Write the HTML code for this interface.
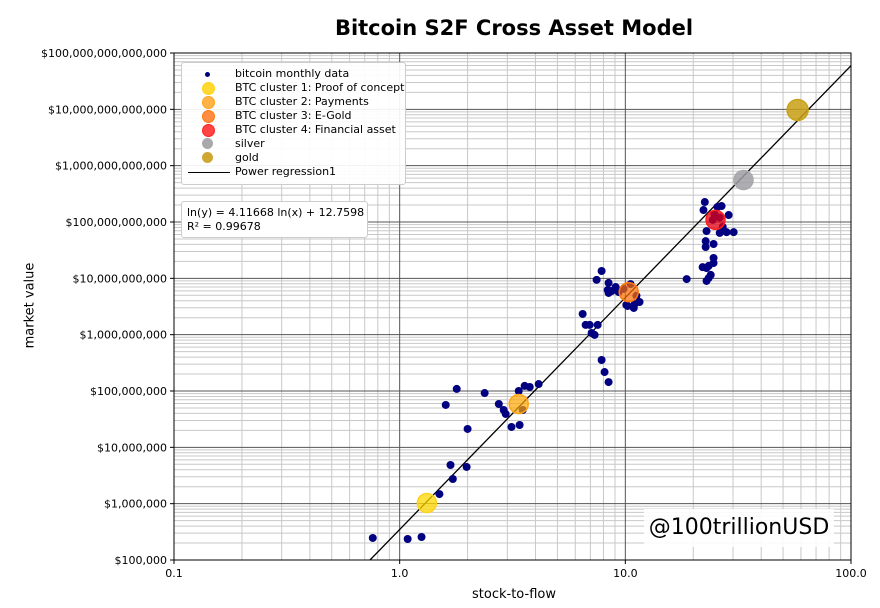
<!DOCTYPE html>
<html><head><meta charset="utf-8"><style>
body{margin:0;background:#fff;}
svg{display:block;font-family:"DejaVu Sans","Liberation Sans",sans-serif;}
</style></head><body>
<svg id="chart" width="880" height="608" viewBox="0 0 880 608"></svg>
<script>
const btcX=[0.76,1.085,1.25,1.79,2.38,1.60,2.00,1.68,1.98,1.72,1.50,2.75,2.89,2.95,3.13,3.40,3.58,3.77,4.13,3.37,3.51,
7.85,7.46,8.43,8.35,8.70,8.43,9.06,9.34,9.82,10.55,11.2,11.56,10.1,11.0,10.24,10.9,6.47,6.67,6.95,7.54,7.09,7.31,7.85,8.09,8.43,
22.5,22.2,25.6,26.7,28.7,24.4,27.0,22.9,26.2,28.1,30.2,22.7,24.6,22.7,24.6,24.6,22.0,23.4,22.9,23.9,23.4,22.9,18.7,24.8,26.2];
const btcY=[2.46e5,2.36e5,2.56e5,1.09e8,9.2e7,5.65e7,2.12e7,4.86e6,4.48e6,2.74e6,1.48e6,5.88e7,4.6e7,3.91e7,2.3e7,2.49e7,1.23e8,1.18e8,1.33e8,1.0e8,4.6e7,
1.35e10,9.4e9,8.3e9,6.2e9,5.96e9,5.5e9,7.0e9,5.7e9,6.5e9,7.9e9,4.9e9,3.8e9,3.37e9,3.5e9,3.23e9,2.98e9,2.33e9,1.49e9,1.49e9,1.49e9,1.07e9,9.9e8,3.55e8,2.17e8,1.44e8,
2.26e11,1.63e11,1.85e11,1.92e11,1.33e11,1.09e11,8.2e10,6.9e10,6.4e10,6.6e10,6.6e10,4.57e10,4.07e10,3.6e10,2.3e10,1.87e10,1.58e10,1.66e10,1.52e10,1.15e10,1.01e10,8.98e9,9.7e9,1.4e11,1.2e11];
const bigNames=["cluster-1","cluster-2","cluster-3","cluster-4","silver","gold"];
const bigX=[1.32,3.37,10.35,25.1,33.4,58.0];
const bigY=[1.03e6,5.88e7,5.7e9,1.09e11,5.57e11,9.75e12];
const bigFill=["rgba(255,215,0,0.75)","rgba(255,165,0,0.7)","rgba(255,110,0,0.7)","rgba(230,0,20,0.75)","rgba(160,160,165,0.85)","rgba(200,160,20,0.85)"];
const bigStroke=["#ffd21a","#ffa319","#ff7a10","#ff2020","#a9a9ad","#c9a21a"];
const regA=4.11668, regB=12.7598;
const yTicks=[1e5,1e6,1e7,1e8,1e9,1e10,1e11,1e12,1e13,1e14];
const xTicks=[0.1,1,10,100];
const xTickLabels=["0.1","1.0","10.0","100.0"];

const L=174,R=851,T=53,B=560;
const sx=v=>L+(Math.log10(v)+1)/3*(R-L);
const sy=v=>B-(Math.log10(v)-5)/9*(B-T);
const svg=document.getElementById('chart');
const NS="http://www.w3.org/2000/svg";
function mk(tag,attrs,parent){const e=document.createElementNS(NS,tag);for(const k in attrs)e.setAttribute(k,attrs[k]);(parent||svg).appendChild(e);return e;}
function fmt(v){return "$"+Math.round(v).toLocaleString("en-US");}

const grid=mk('g',{});


for(let d=-1;d<2;d++)for(let m=2;m<10;m++){const x=sx(m*Math.pow(10,d));mk('line',{x1:x,x2:x,y1:T,y2:B,stroke:'#c8c8c8','stroke-width':1},grid);}
for(let d=5;d<14;d++)for(let m=2;m<10;m++){const y=sy(m*Math.pow(10,d));mk('line',{x1:L,x2:R,y1:y,y2:y,stroke:'#c8c8c8','stroke-width':1},grid);}
xTicks.forEach((t,i)=>{const x=sx(t);mk('line',{x1:x,x2:x,y1:T,y2:B,stroke:'#555','stroke-width':1},grid);
 mk('line',{x1:x,x2:x,y1:B,y2:B+4,stroke:'#000'},grid);
 const tx=mk('text',{x:x,y:B+17,'font-size':11,'text-anchor':'middle'},grid);tx.textContent=xTickLabels[i];
 
 });
yTicks.forEach(t=>{const y=sy(t);mk('line',{x1:L,x2:R,y1:y,y2:y,stroke:'#555','stroke-width':1},grid);
 mk('line',{x1:L-4,x2:L,y1:y,y2:y,stroke:'#000'},grid);
 const tx=mk('text',{x:L-7,y:y+4,'font-size':11,'text-anchor':'end'},grid);tx.textContent=fmt(t);
 
 });

const clip=mk('clipPath',{id:'pc'});mk('rect',{x:L,y:T,width:R-L,height:B-T},clip);
// regression line
const x0=Math.exp((Math.log(1e5)-regB)/regA), x1=Math.exp((Math.log(1e14)-regB)/regA);
const reg=mk('line',{x1:sx(x0),y1:sy(1e5),x2:sx(x1),y2:sy(1e14),stroke:'#000','stroke-width':1.3,'clip-path':'url(#pc)'});


// btc points
btcX.forEach((v,i)=>{const c=mk('circle',{cx:sx(v),cy:sy(btcY[i]),r:4,fill:'#000080','clip-path':'url(#pc)'});
 
 });
bigX.forEach((v,i)=>{const c=mk('circle',{cx:sx(v),cy:sy(bigY[i]),r:i==5?10.5:9.5,fill:bigFill[i],stroke:bigStroke[i],'stroke-width':1.5});
 
 });
mk('rect',{x:L,y:T,width:R-L,height:B-T,fill:'none',stroke:'#000','stroke-width':1});
</script>
<div style="position:absolute;left:0;top:0;width:880px;height:608px;pointer-events:none;font-family:'DejaVu Sans','Liberation Sans',sans-serif;color:#000">
 <div style="position:absolute;left:174px;width:680px;top:16px;text-align:center;font-weight:bold;font-size:21px">Bitcoin S2F Cross Asset Model</div>
 <div style="position:absolute;left:174px;width:680px;top:587px;text-align:center;font-size:13px">stock-to-flow</div>
 <div style="position:absolute;left:-20px;top:298px;width:100px;text-align:center;font-size:13px;transform:rotate(-90deg)">market value</div>
 <div style="position:absolute;left:181px;top:62px;width:225px;height:123px;background:rgba(255,255,255,0.92);border:1px solid #ccc;border-radius:3px;font-size:11px;line-height:14px;box-sizing:border-box;padding-top:4px">
  <div style="position:relative;padding-left:53px">bitcoin monthly data<span style="position:absolute;left:23px;top:5px;width:5px;height:5px;border-radius:50%;background:#000080"></span></div>
  <div style="position:relative;padding-left:53px">BTC cluster 1: Proof of concept<span style="position:absolute;left:20px;top:1px;width:11px;height:11px;border-radius:50%;background:#ffd92e;border:1px solid #ffd21a"></span></div>
  <div style="position:relative;padding-left:53px">BTC cluster 2: Payments<span style="position:absolute;left:20px;top:1px;width:11px;height:11px;border-radius:50%;background:#ffb347;border:1px solid #ffa319"></span></div>
  <div style="position:relative;padding-left:53px">BTC cluster 3: E-Gold<span style="position:absolute;left:20px;top:1px;width:11px;height:11px;border-radius:50%;background:#ff8c40;border:1px solid #ff7a10"></span></div>
  <div style="position:relative;padding-left:53px">BTC cluster 4: Financial asset<span style="position:absolute;left:20px;top:1px;width:11px;height:11px;border-radius:50%;background:#ff4444;border:1px solid #ff2020"></span></div>
  <div style="position:relative;padding-left:53px">silver<span style="position:absolute;left:20px;top:1px;width:11px;height:11px;border-radius:50%;background:#a9a9ad"></span></div>
  <div style="position:relative;padding-left:53px">gold<span style="position:absolute;left:20px;top:1px;width:11px;height:11px;border-radius:50%;background:#cfa833"></span></div>
  <div style="position:relative;padding-left:53px">Power regression1<span style="position:absolute;left:6px;top:7px;width:42px;height:1.3px;background:#000"></span></div>
 </div>
 <div style="position:absolute;left:181px;top:201px;width:187px;height:37px;background:#fff;border:1px solid #ccc;border-radius:3px;font-size:11px;line-height:14px;box-sizing:border-box;padding:4px 0 0 5px">ln(y) = 4.11668 ln(x) + 12.7598<br>R² = 0.99678</div>
 <div style="position:absolute;left:644px;top:509px;width:190px;height:38px;background:rgba(255,255,255,0.88);font-size:22px;line-height:38px;text-align:center">@100trillionUSD</div>
</div>
</body></html>
